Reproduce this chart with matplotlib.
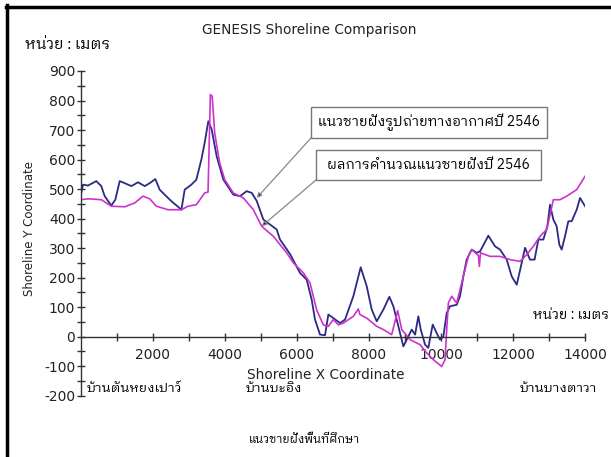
import matplotlib
matplotlib.use('Agg')
import matplotlib.pyplot as plt
from matplotlib.lines import Line2D
from matplotlib.patches import Rectangle
from matplotlib.ticker import FixedLocator, MultipleLocator
from matplotlib import font_manager as fm

# shoreline from aerial photo 2546 (blue)
photo_x = [0, 64, 203, 433, 572, 666, 850, 961, 1083, 1222, 1406, 1590, 1777, 1916,
           2072, 2193, 2332, 2517, 2702, 2795, 2887, 3072, 3211, 3350, 3442, 3543,
           3636, 3775, 3960, 4237, 4423, 4608, 4747, 4886, 5070, 5255, 5441, 5533,
           5811, 6088, 6274, 6413, 6505, 6644, 6783, 6875, 7013, 7199, 7338, 7569,
           7773, 7940, 8079, 8218, 8403, 8569, 8680, 8819, 8958, 9051, 9190, 9283,
           9373, 9440, 9560, 9650, 9772, 9883, 9975, 10068, 10161, 10253, 10438,
           10530, 10622, 10715, 10854, 10993, 11086, 11317, 11503, 11641, 11827,
           11966, 12105, 12243, 12335, 12474, 12600, 12705, 12844, 12955, 13029,
           13121, 13213, 13287, 13352, 13445, 13537, 13630, 13769, 13862, 14000]
photo_y = [476, 515, 512, 527, 510, 476, 444, 464, 527, 520, 510, 523, 510, 520,
           534, 498, 481, 459, 440, 430, 498, 515, 532, 600, 657, 730,
           702, 611, 532, 481, 476, 493, 487, 460, 397, 380, 363, 329,
           280, 216, 193, 125, 58, 7, 5, 75, 63, 46, 58, 137,
           235, 171, 92, 52, 92, 135, 103, 35, -33, -10, 24, 7,
           69, 24, -27, -38, 41, 12, -10, 0, 80, 103, 108,
           137, 204, 261, 295, 284, 289, 342, 306, 295, 261,
           204, 176, 250, 301, 261, 261, 329, 329, 374, 447,
           397, 374, 312, 295, 340, 391, 391, 430, 470, 442]

# computed shoreline 2546 (magenta)
model_x = [0, 203, 572, 850, 1222, 1499, 1730, 1916, 2100, 2424, 2795, 2980, 3211,
           3442, 3535, 3600, 3650, 3720, 3858, 3998, 4237, 4515, 4793, 5024, 5348,
           5719, 5904, 6181, 6366, 6552, 6737, 6875, 7013, 7152, 7291, 7569, 7708,
           7750, 7940, 8218, 8403, 8634, 8800, 8912, 9142, 9420, 9605, 9790, 10022,
           10114, 10161, 10207, 10300, 10438, 10622, 10761, 10854, 11040, 11067,
           11100, 11364, 11641, 11919, 12197, 12382, 12566, 12751, 12937, 12990,
           13121, 13306, 13491, 13769, 14000]
model_y = [464, 467, 464, 442, 440, 453, 476, 467, 442, 430, 430, 442, 447,
           487, 490, 820, 815, 690, 589, 532, 487, 470, 430, 374, 340,
           284, 250, 216, 182, 90, 40, 35, 58, 40, 46, 69, 94,
           75, 63, 35, 24, 7, 88, 24, -10, -27, -55, -78, -101,
           -78, 24, 114, 137, 114, 204, 272, 295, 275, 238,
           284, 272, 272, 261, 255, 278, 306, 340, 363, 391,
           464, 464, 476, 498, 543]

x_labels = [2000, 4000, 6000, 8000, 10000, 12000, 14000]
villages = ['บ้านตันหยงเปาว์', 'บ้านบะอิง', 'บ้านบางตาวา']


def find_thai_font():
    try:
        from fontTools.ttLib import TTFont
    except Exception:
        return None
    found = []
    for f in fm.fontManager.ttflist:
        try:
            tt = TTFont(f.fname, fontNumber=0, lazy=True)
            cmap = tt.getBestCmap() or {}
            if 0x0E01 in cmap and 0x0E49 in cmap:
                found.append(f.name)
        except Exception:
            pass
    for key in ['Looped', 'Serif Thai', 'Thai', '']:
        for n in found:
            if key in n:
                return n
    return None


thai = find_thai_font()
plt.rcParams['axes.unicode_minus'] = False
plt.rcParams['font.family'] = ['DejaVu Sans']
tfam = [thai, 'DejaVu Sans'] if thai else ['DejaVu Sans']

W, H = 611, 457
fig = plt.figure(figsize=(W / 100, H / 100), dpi=100)
ax = fig.add_axes([80.7 / W, 1 - 395.7 / H, (585 - 80.7) / W, (395.7 - 71) / H])

ax.plot(photo_x, photo_y, color='#2b2b85', lw=1.3)
ax.plot(model_x, model_y, color='#cc33cc', lw=1.2)

ax.set_xlim(0, 14000)
ax.set_ylim(-200, 900)
ax.spines['top'].set_visible(False)
ax.spines['right'].set_visible(False)
ax.spines['bottom'].set_position(('data', 0))
for s in ['left', 'bottom']:
    ax.spines[s].set_linewidth(1.0)
    ax.spines[s].set_color('#333333')

ax.xaxis.set_major_locator(FixedLocator(x_labels))
ax.xaxis.set_minor_locator(FixedLocator(range(1000, 14000, 2000)))
ax.yaxis.set_major_locator(MultipleLocator(100))
ax.yaxis.set_minor_locator(MultipleLocator(50))
ax.tick_params(which='both', direction='inout', length=6, width=1, color='#333333',
               labelsize=10, labelcolor='#222222')
ax.tick_params(axis='x', pad=5)
ax.tick_params(axis='y', pad=1)

fig.text(309 / W, 1 - 30 / H, 'GENESIS Shoreline Comparison', ha='center', va='center',
         fontsize=9.8, color='#222222')
fig.text(326 / W, 1 - 375 / H, 'Shoreline X Coordinate', ha='center', va='center',
         fontsize=9.8, color='#222222')
fig.text(30 / W, 1 - 229 / H, 'Shoreline Y Coordinate', ha='center', va='center',
         rotation=90, fontsize=8.5, color='#222222')

fig.text(25 / W, 1 - 45 / H, 'หน่วย : เมตร', ha='left', va='center', fontsize=11, family=tfam)
fig.text(609 / W, 1 - 315 / H, 'หน่วย : เมตร', ha='right', va='center', fontsize=9.8,
         family=tfam)
for cx, name in zip([134, 274, 558], villages):
    fig.text(cx / W, 1 - 389 / H, name, ha='center', va='center', fontsize=9.5, family=tfam)
fig.text(305 / W, 1 - 439 / H, 'แนวชายฝั่งพื้นที่ศึกษา', ha='center', va='center',
         fontsize=8.4, family=tfam)

# callout boxes
boxes = [((311, 107, 547, 138), 'แนวชายฝั่งรูปถ่ายทางอากาศปี 2546', (4886, 470)),
         ((316, 150, 541, 180), 'ผลการคำนวณแนวชายฝั่งปี 2546', (5024, 374))]
for (x0, y0, x1, y1), label, target in boxes:
    fig.add_artist(Rectangle((x0 / W, 1 - y1 / H), (x1 - x0) / W, (y1 - y0) / H,
                             transform=fig.transFigure, fill=False, ec='#777777', lw=1))
    fig.text((x0 + x1) / 2 / W, 1 - (y0 + y1) / 2 / H, label, ha='center', va='center',
             fontsize=10, family=tfam)
    ax.annotate('', xy=target, xycoords='data', xytext=(x0 / W, 1 - y1 / H),
                textcoords='figure fraction',
                arrowprops=dict(arrowstyle='-|>', ec='#888888', fc='black', lw=0.9,
                                mutation_scale=7, shrinkA=0, shrinkB=0))

# frame
fig.add_artist(Line2D([6.5 / W, 6.5 / W], [0, 1 - 5 / H], transform=fig.transFigure,
                      color='black', lw=2.5))
fig.add_artist(Line2D([5.5 / W, 1], [1 - 6.5 / H, 1 - 6.5 / H], transform=fig.transFigure,
                      color='black', lw=2.5))

fig.savefig('out.png', dpi=100)
